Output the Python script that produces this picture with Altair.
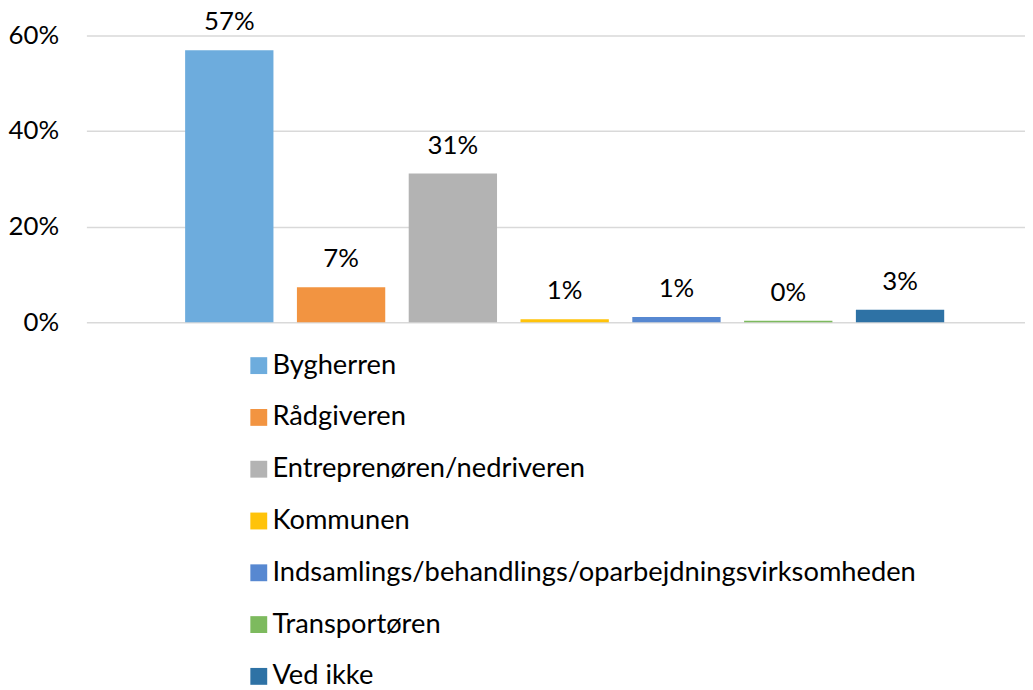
import altair as alt
import pandas as pd

categories = ["Bygherren", "Rådgiveren", "Entreprenøren/nedriveren", "Kommunen",
              "Indsamlings/behandlings/oparbejdningsvirksomheden", "Transportøren", "Ved ikke"]
shares = [0.569, 0.073, 0.311, 0.006, 0.011, 0.003, 0.026]
colors = ["#6DACDD", "#F29441", "#B3B3B3", "#FFC30A", "#5788D1", "#7DBA5E", "#2E72A5"]
y_ticks = [0, 0.2, 0.4, 0.6]

df = pd.DataFrame({"cat": categories, "share": shares})

FONT = "Lato"

x = alt.X("cat:N", sort=categories, axis=None,
          scale=alt.Scale(paddingInner=0.21, paddingOuter=0.803, align=0.55))
y = alt.Y("share:Q", scale=alt.Scale(domain=[0, 0.6], nice=False),
          axis=alt.Axis(values=y_ticks, format=".0%", title=None, grid=True,
                        gridColor="#D9D9D9", gridWidth=1.5, domain=False, ticks=False,
                        labelFont=FONT, labelFontSize=26, labelColor="#000000",
                        labelPadding=28))

bars = alt.Chart(df).mark_bar().encode(
    x=x,
    y=y,
    color=alt.Color("cat:N", sort=categories,
                    scale=alt.Scale(domain=categories, range=colors),
                    legend=alt.Legend(title=None, orient="none", legendX=160, legendY=319,
                                      direction="vertical", symbolType="square",
                                      symbolSize=289, symbolStrokeWidth=0,
                                      labelFont=FONT, labelFontSize=27.5, labelColor="#000000",
                                      labelOffset=0, rowPadding=23.2, padding=0,
                                      labelLimit=0)),
)

labels = alt.Chart(df).mark_text(font=FONT, fontSize=26, color="#000000",
                                 baseline="middle", dy=-28).encode(
    x=x,
    y=alt.Y("share:Q"),
    text=alt.Text("share:Q", format=".0%"),
)

chart = (bars + labels).properties(
    width=946, height=289,
    autosize=alt.AutoSizeParams(type="none"),
    padding={"left": 79, "top": 25, "right": 0, "bottom": 368},
).configure_view(stroke=None)

chart.save("out.html", embed_options={"renderer": "svg", "actions": False})
